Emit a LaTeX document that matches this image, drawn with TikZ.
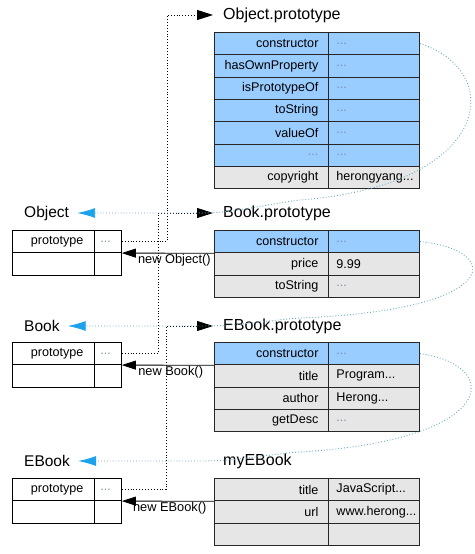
\documentclass[tikz,border=0pt]{standalone}
\usepackage{fontspec}
\setmainfont{Liberation Sans}
\usetikzlibrary{arrows.meta}
\definecolor{cblue}{HTML}{99CCFF}
\definecolor{cgray}{HTML}{E6E6E6}
\definecolor{cteal}{HTML}{6AA8C2}
\definecolor{cabl}{HTML}{1CA3EC}
\definecolor{cdots}{HTML}{7D90A8}
\newcommand\el{{\color{cdots}...}}
\tikzset{
  cellL/.style={draw=black!85, line width=0.9pt, anchor=north west, minimum width=114pt, minimum height=22.3pt,
    text width=94pt, inner xsep=0pt, inner ysep=0pt, align=right, font=\fontsize{12.6}{14}\selectfont},
  cellR/.style={draw=black!85, line width=0.9pt, anchor=north west, minimum width=91pt, minimum height=22.3pt,
    text width=75pt, inner xsep=0pt, inner ysep=0pt, align=left, font=\fontsize{12.6}{14}\selectfont},
  boxL/.style={draw=black, line width=0.8pt, fill=white, anchor=north west, minimum width=82pt, minimum height=22.3pt,
    text width=60pt, inner xsep=0pt, inner ysep=0pt, align=right, font=\fontsize{12.6}{14}\selectfont},
  boxR/.style={draw=black, line width=0.8pt, fill=white, anchor=north west, minimum width=27pt, minimum height=22.3pt,
    text width=15pt, inner xsep=0pt, inner ysep=0pt, align=left, font=\fontsize{12.6}{14}\selectfont},
  ttl/.style={anchor=west, inner xsep=10pt, inner ysep=0pt, font=\fontsize{16}{18}\selectfont},
  lbl/.style={anchor=west, inner xsep=8pt, inner ysep=0pt, font=\fontsize{15.5}{17}\selectfont},
  ptr/.style={draw=black, dotted, line width=0.9pt, -{Triangle[length=16pt,width=10pt]}},
  newarr/.style={draw=black, line width=0.8pt, -{Triangle[length=14pt,width=9pt]}},
  newlbl/.style={anchor=north, inner sep=1pt, font=\fontsize{12.8}{14}\selectfont},
  tl/.style={draw=cteal, dotted, line width=0.9pt, -{Latex[length=18pt,width=10pt,color=cabl]}}
}
\newcommand\myrow[5]{%
  \node[cellL, fill=#3] (#1l) at (214,#2) {#4};
  \node[cellR, fill=#3] (#1r) at (328,#2) {#5};}
\newcommand\mybox[2]{%
  \node[boxL] (#1a) at (12,#2) {prototype};
  \node[boxR] (#1b) at (94,#2) {\el};
  \node[boxL] (#1c) at (12,#2+22.3) {};
  \node[boxR] (#1d) at (94,#2+22.3) {};}
\begin{document}
\begin{tikzpicture}[x=1pt,y=-1pt]
\useasboundingbox (0,0) rectangle (474,554);
% Object.prototype
\node[ttl] (optitle) at (213,15) {Object.prototype};
\myrow{op1}{32}{cblue}{constructor}{\el}
\myrow{op2}{54.3}{cblue}{hasOwnProperty}{\el}
\myrow{op3}{76.6}{cblue}{isPrototypeOf}{\el}
\myrow{op4}{98.9}{cblue}{toString}{\el}
\myrow{op5}{121.2}{cblue}{valueOf}{\el}
\myrow{op6}{143.5}{cblue}{\el}{\el}
\myrow{op7}{165.8}{cgray}{copyright}{herongyang...}
% Book.prototype
\node[ttl] (bptitle) at (213,213) {Book.prototype};
\myrow{bp1}{230}{cblue}{constructor}{\el}
\myrow{bp2}{252.3}{cgray}{price}{9.99}
\myrow{bp3}{274.6}{cgray}{toString}{\el}
% EBook.prototype
\node[ttl] (eptitle) at (213,326) {EBook.prototype};
\myrow{ep1}{342}{cblue}{constructor}{\el}
\myrow{ep2}{364.3}{cgray}{title}{Program...}
\myrow{ep3}{386.6}{cgray}{author}{Herong...}
\myrow{ep4}{408.9}{cgray}{getDesc}{\el}
% myEBook
\node[ttl] (metitle) at (213,461) {myEBook};
\myrow{me1}{478}{cgray}{title}{JavaScript...}
\myrow{me2}{500.3}{cgray}{url}{www.herong...}
\myrow{me3}{522.6}{cgray}{}{}
% constructors
\node[lbl] (objlab) at (16,213) {Object};
\mybox{ob}{230}
\node[lbl] (bklab) at (16,326) {Book};
\mybox{bk}{342}
\node[lbl] (eblab) at (16,461) {EBook};
\mybox{eb}{478}
% prototype pointers
\coordinate (j1) at (167,0);
\coordinate (j2) at (158,0);
\coordinate (j3) at (166,0);
\draw[ptr] (obb.east) -- (obb.east -| j1) -- (j1 |- optitle.west) -- (optitle.west);
\draw[ptr] (bkb.east) -- (bkb.east -| j2) -- (j2 |- bptitle.west) -- (bptitle.west);
\draw[ptr] (ebb.east) -- (ebb.east -| j3) -- (j3 |- eptitle.west) -- (eptitle.west);
% new arrows
\draw[newarr] (bp1l.south west) -- (obb.south east) node[newlbl, pos=0.43] {new Object()};
\draw[newarr] (ep1l.south west) -- (bkb.south east) node[newlbl, pos=0.47] {new Book()};
\draw[newarr] (me1l.south west) -- (ebb.south east) node[newlbl, pos=0.48] {new EBook()};
% constructor back-links
\draw[tl] (op1r.east) .. controls (505,70) and (495,185) .. (300,200) .. controls (255,206) and (235,213) .. (200,213) -- (objlab.east);
\draw[tl] (bp1r.east) .. controls (504,250) and (504,310) .. (300,318) .. controls (260,321) and (240,326) .. (200,326) -- (bklab.east);
\draw[tl] (ep1r.east) .. controls (503,365) and (500,440) .. (300,452) .. controls (260,455) and (240,461) .. (200,461) -- (eblab.east);
\end{tikzpicture}
\end{document}
